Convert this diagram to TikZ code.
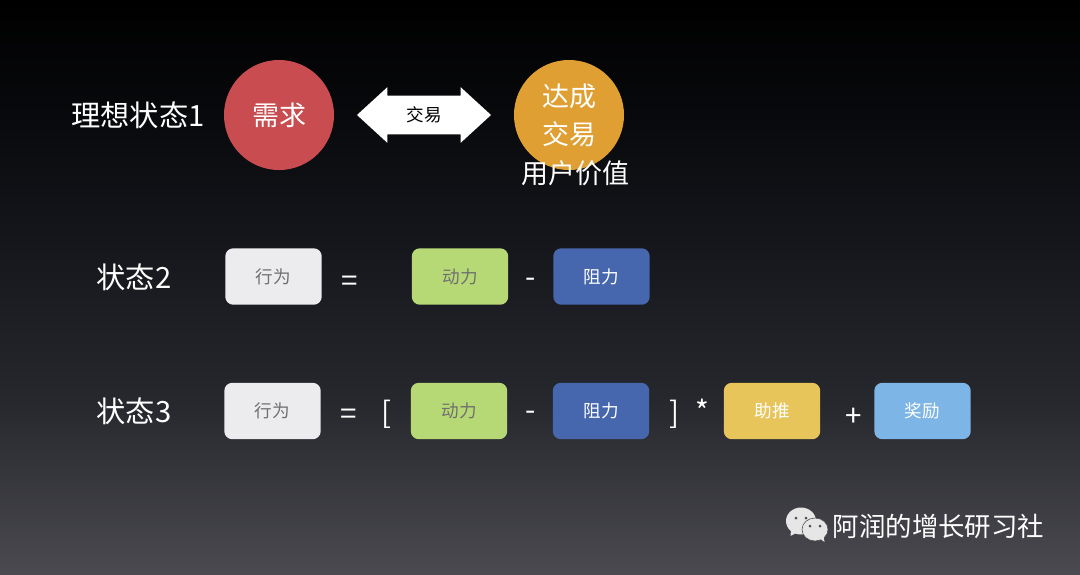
\documentclass[tikz,border=0pt]{standalone}
\usepackage{fontspec}
\setmainfont{Noto Sans CJK SC}
\usetikzlibrary{shapes.arrows}
\definecolor{redcirc}{HTML}{C94C50}
\definecolor{orangecirc}{HTML}{E09F33}
\definecolor{greybox}{HTML}{ECEBEE}
\definecolor{greenbox}{HTML}{B7D975}
\definecolor{bluebox}{HTML}{4666AE}
\definecolor{yellowbox}{HTML}{E7C55A}
\definecolor{skybox}{HTML}{7CB5E6}
\definecolor{greytxt}{HTML}{707070}
\definecolor{iconcol}{HTML}{E6E6E6}
\definecolor{bga}{HTML}{08090C}
\definecolor{bgb}{HTML}{14151A}
\definecolor{bgc}{HTML}{27282E}
\definecolor{bgbot}{HTML}{4A4A50}
\pgfdeclareverticalshading{slideshade}{100bp}{
 color(0bp)=(bgbot);color(25bp)=(bgbot);color(40bp)=(bgc);color(55bp)=(bgb);color(65bp)=(bga);color(75bp)=(black);color(100bp)=(black)}
\tikzset{
 bigtxt/.style={text=white,font=\fontsize{19.2}{23}\selectfont,inner sep=0pt},
 statetxt/.style={bigtxt,font=\fontsize{20.8}{25}\selectfont},
 optxt/.style={bigtxt,font=\fontsize{21}{25}\selectfont},
 circ/.style={circle,minimum size=2.75cm,inner sep=0pt},
 boxn/.style={rounded corners=0.2cm,minimum width=2.41cm,minimum height=1.41cm,inner sep=0pt,font=\fontsize{12.5}{15}\selectfont},
}
\begin{document}
\begin{tikzpicture}[x=0.025cm,y=-0.025cm]
\useasboundingbox (0,0) rectangle (1080,574);
\shade[shading=slideshade] (0,0) rectangle (1080,574);
% top row
\node[statetxt] (ideal) at (138,115) {理想状态1};
\node[circ,fill=redcirc,text=white,font=\fontsize{19.2}{23}\selectfont] (need) at (279,115) {需求};
\node[circ,fill=orangecirc] (deal) at (569,115) {};
\node[bigtxt] (dealA) at (569,96) {达成};
\node[bigtxt] (dealB) at (569,134) {交易};
\node[bigtxt] (value) at (575,173) {用户价值};
\node[double arrow,fill=white,text=black,inner sep=0pt,minimum height=3.35cm,minimum width=1.375cm,
 double arrow head extend=0.2125cm,double arrow tip angle=85,font=\fontsize{12.5}{15}\selectfont] (trade) at (424,115) {\rule[-0.475cm]{0pt}{0.95cm}\raisebox{-0.15cm}{交易}};
% the two equations
\node[statetxt] (stateB) at (134,277) {状态2};
\node[statetxt] (stateC) at (134,411) {状态3};
\foreach \x/\y/\name/\fillc/\txtc/\lab in {273.5/276.5/doB/greybox/greytxt/行为,460/276.5/motB/greenbox/greytxt/动力,601.5/276.5/resB/bluebox/white/阻力,
 272.5/411/doC/greybox/greytxt/行为,459/411/motC/greenbox/greytxt/动力,601/411/resC/bluebox/white/阻力,772/411/pushC/yellowbox/white/助推,922.5/411/prizeC/skybox/white/奖励}{
 \node[boxn,fill=\fillc,text=\txtc] (\name) at (\x,\y) {\lab};
 }
\foreach \x/\y/\name/\sym in {349.5/283.5/eqB/=,530.5/283/minB/-,348.5/417/eqC/=,386/414/openC/{[},530.5/416/minC/-,674/414/closeC/{]},702/411/timesC/*,854/417/plusC/+}{
 \node[optxt] (\name) at (\x,\y) {\sym};
 }
% wechat mark
\fill[iconcol] (801,521) ellipse (15 and 13.5);
\fill[iconcol] (791,530) -- (790.5,536) -- (798,532) -- cycle;
\draw[fill=iconcol,draw=black!70,line width=0.4pt] (815,529.5) ellipse (13 and 11.5);
\fill[iconcol] (819,538) -- (824.5,542) -- (823.5,536) -- cycle;
\foreach \x/\y in {796/518,806/518,810/526,820/526}{
 \fill[black!70] (\x,\y) circle (1.5);
 }
\node[text=white,inner sep=0pt,font=\fontsize{18.8}{23}\selectfont] (brand) at (938.5,526) {阿润的增长研习社};
\end{tikzpicture}
\end{document}
